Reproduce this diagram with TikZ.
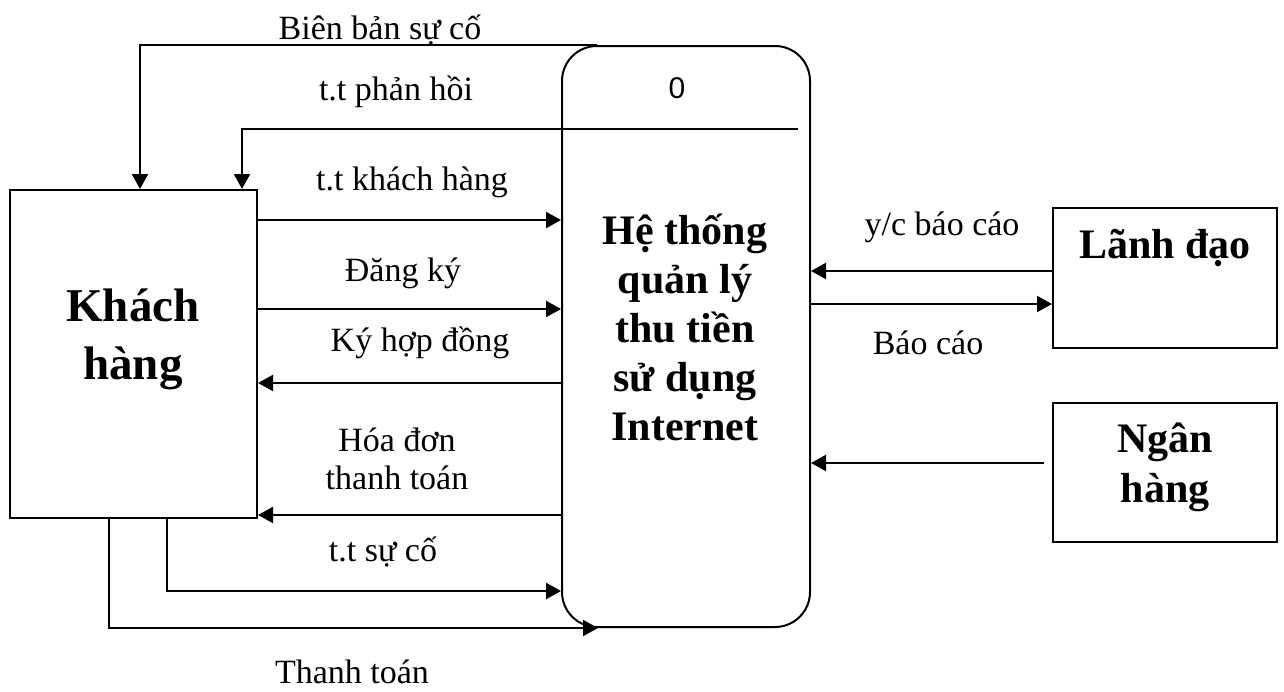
\documentclass[tikz,border=0pt]{standalone}
\usepackage{fontspec}
\setmainfont{Liberation Serif}
\newfontfamily\arialf{Liberation Sans}
\usetikzlibrary{arrows.meta,calc}
\begin{document}
\begin{tikzpicture}[x=0.5pt,y=-0.5pt,
 box/.style={draw, line width=1pt, inner sep=0pt},
 flow/.style={line width=1.1pt, -{Triangle[length=7.5pt,width=8pt]}},
 lbl/.style={font=\fontsize{17}{19}\selectfont, align=center, inner sep=0pt},
 big/.style={font=\fontsize{21}{24.5}\selectfont\bfseries, align=center, inner sep=0pt}]
\useasboundingbox (0,0) rectangle (1284,691);

% boxes
\node[box, minimum width=123.5pt, minimum height=164pt] (kh) at (133.5,354) {};
\node[box, rounded corners=17.5pt, minimum width=124pt, minimum height=290.5pt] (proc) at (686,336.5) {};
\node[box, minimum width=112pt, minimum height=70pt] (ld) at (1165,278) {};
\node[box, minimum width=112pt, minimum height=69.5pt] (nh) at (1165,472.5) {};

% box texts
\node[big, font=\fontsize{23.5}{29}\selectfont\bfseries] (khT) at (133,339) {Khách\\hàng};
\node[big] (procT) at (685,327) {Hệ thống\\quản lý\\thu tiền\\sử dụng\\Internet};
\node[big] (ldT) at (1165,248) {Lãnh đạo};
\node[big, font=\fontsize{21}{25}\selectfont\bfseries] (nhT) at (1165,467) {Ngân\\hàng};
\node[inner sep=0pt, font=\arialf\fontsize{15}{18}\selectfont] (zero) at (677,88) {0};

% divider
\coordinate (divR) at (798,129);
\draw[line width=1.1pt] (proc.west |- divR) -- (divR);

% flows
\draw[flow] ([xshift=-44.5pt]proc.north) -| ([xshift=3.25pt]kh.north);
\draw[flow] (divR) -| ([xshift=54.25pt]kh.north);
\draw[flow] (kh.east |- 0,220) -- (proc.west |- 0,220);
\draw[flow] (kh.east |- 0,309) -- (proc.west |- 0,309);
\draw[flow] (proc.west |- 0,383) -- (kh.east |- 0,383);
\draw[flow] (proc.west |- 0,515) -- (kh.east |- 0,515);
\draw[flow] (kh.south -| 167,0) |- (proc.west |- 0,591);
\draw[flow] (kh.south -| 109,0) |- ([xshift=-44pt]proc.south);
\draw[flow] (ld.west |- 0,271) -- (proc.east |- 0,271);
\draw[flow] (proc.east |- 0,304) -- (ld.west |- 0,304);
\draw[flow] ($(nh.west |- 0,463)+(-8,0)$) -- (proc.east |- 0,463);

% labels
\node[lbl] (l1) at (380,30) {Biên bản sự cố};
\node[lbl] (l2) at (396,92) {t.t phản hồi};
\node[lbl] (l3) at (412,182) {t.t khách hàng};
\node[lbl] (l4) at (403,273) {Đăng ký};
\node[lbl] (l5) at (420,343) {Ký hợp đồng};
\node[lbl] (l6) at (397,459) {Hóa đơn\\thanh toán};
\node[lbl] (l7) at (383,552) {t.t sự cố};
\node[lbl] (l8) at (352,672) {Thanh toán};
\node[lbl] (l9) at (942,227) {y/c báo cáo};
\node[lbl] (l10) at (928,343) {Báo cáo};
\end{tikzpicture}
\end{document}
